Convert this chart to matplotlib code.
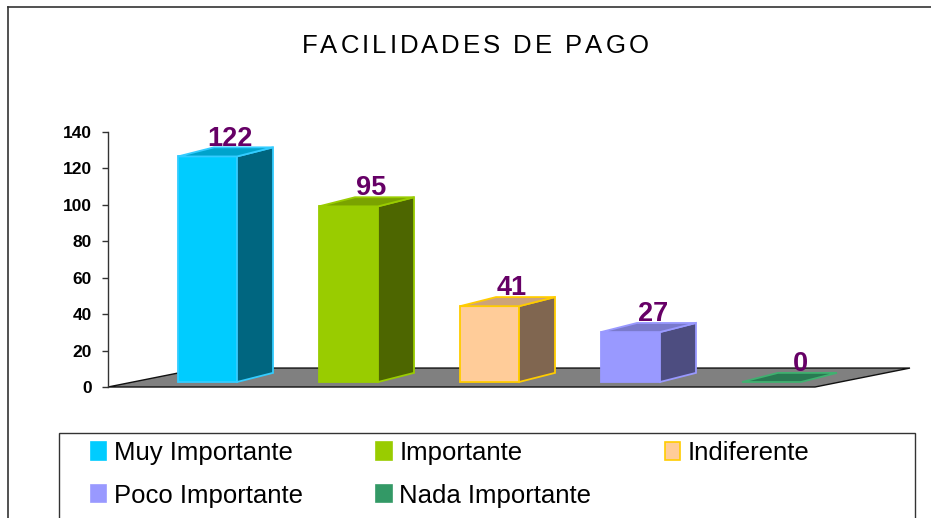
import matplotlib.pyplot as plt
from matplotlib.patches import Polygon, Rectangle, Patch
from matplotlib.lines import Line2D
from matplotlib.font_manager import FontProperties

# Datos
categorias = ['Muy Importante', 'Importante', 'Indiferente', 'Poco Importante', 'Nada Importante']
valores = [122, 95, 41, 27, 0]
ticks_y = [0, 20, 40, 60, 80, 100, 120, 140]
titulo = 'FACILIDADES DE PAGO'

# Colores de cada barra (frente, lado, arriba, borde)
c_frente = ['#00CCFF', '#99CC00', '#FFCC99', '#9999FF', '#339966']
c_lado = ['#006680', '#4D6600', '#806650', '#4D4D80', '#1A4D33']
c_arriba = ['#00A3CC', '#7AA300', '#CCA37A', '#7A7ACC', '#297A52']
c_borde = ['#33CCFF', '#99CC00', '#FFCC00', '#9999FF', '#40B070']

W, H = 931, 518
def fx(px):
    return px / W
def fy(py):
    return 1 - py / H

plt.rcParams['font.family'] = ['Liberation Sans', 'DejaVu Sans']
fig = plt.figure(figsize=(W / 100, H / 100), dpi=100)
rend = fig.canvas.get_renderer()

# texto con espaciado entre letras (el título del original viene espaciado)
def texto_espaciado(xc, yc, s, extra, size):
    prop = FontProperties(family='Liberation Sans', size=size)
    anchos = [rend.get_text_width_height_descent(c, prop, ismath=False)[0] for c in s]
    total = sum(anchos) + extra * (len(s) - 1)
    x = xc - total / 2
    for c, w in zip(s, anchos):
        fig.text(fx(x), fy(yc), c, ha='left', va='center', fontproperties=prop)
        x += w + extra

# marco exterior
fig.add_artist(Line2D([fx(8), fx(8)], [fy(7), 0], color='#333333', lw=1.2))
fig.add_artist(Line2D([fx(8), 1], [fy(7), fy(7)], color='#333333', lw=1.2))

texto_espaciado(475, 46, titulo, 3.0, 18.5)

# ejes: x en unidades de categoría, y en unidades del valor
ax = fig.add_axes([fx(108), fy(387), (910 - 108) / W, (387 - 132) / H])
paso = 141.0            # px por categoría
x0 = (108 - 207.5) / paso
x1 = (910 - 207.5) / paso
ax.set_xlim(x0, x1)
ax.set_ylim(0, 140)
for s in ['top', 'right', 'bottom']:
    ax.spines[s].set_visible(False)
ax.spines['left'].set_color('#333333')
ax.spines['left'].set_linewidth(1.0)
ax.set_xticks([])
ax.set_yticks(ticks_y)
ax.tick_params(axis='y', length=4.5, width=1.0, color='#333333', pad=7)
for lab in ax.get_yticklabels():
    lab.set_fontweight('bold')
    lab.set_fontsize(12.5)
ax.patch.set_visible(False)

# piso
piso_dx, piso_dy = 95 / paso, 10.4
piso_fin = (815 - 207.5) / paso
piso = [(x0, 0), (piso_fin, 0), (piso_fin + piso_dx, piso_dy), (x0 + piso_dx, piso_dy)]
ax.add_patch(Polygon(piso, closed=True, facecolor='#808080', edgecolor='#111111',
                     lw=1.0, clip_on=False, zorder=1))

# barras 3D
ancho = 59 / paso
dx, dy = 36 / paso, 5.0
base = 2.75
escala = 1.015
for i, v in enumerate(valores):
    xl = i - ancho / 2
    xr = i + ancho / 2
    top = base + v * escala
    frente = [(xl, base), (xr, base), (xr, top), (xl, top)]
    lado = [(xr, base), (xr + dx, base + dy), (xr + dx, top + dy), (xr, top)]
    arriba = [(xl, top), (xr, top), (xr + dx, top + dy), (xl + dx, top + dy)]
    if v > 0:
        ax.add_patch(Polygon(frente, closed=True, facecolor=c_frente[i], edgecolor=c_borde[i],
                             lw=1.3, joinstyle='miter', clip_on=False, zorder=2))
        ax.add_patch(Polygon(lado, closed=True, facecolor=c_lado[i], edgecolor=c_borde[i],
                             lw=1.3, joinstyle='miter', clip_on=False, zorder=2))
    ax.add_patch(Polygon(arriba, closed=True, facecolor=c_arriba[i], edgecolor=c_borde[i],
                         lw=1.3, joinstyle='miter', clip_on=False, zorder=2))
    desp = 0.08 if v == 0 else 0.03
    ax.text(i + dx / 2 + desp, top + dy + 1.0, str(v), ha='center', va='baseline',
            fontsize=19.5, fontweight='bold', color='#660066', zorder=3, clip_on=False)

# leyenda
fig.add_artist(Rectangle((fx(59), fy(560)), (915 - 59) / W, (560 - 433) / H,
                         facecolor='none', edgecolor='#333333', lw=1.0))
handles = [Patch(facecolor=c_frente[i], edgecolor=c_borde[i] if i == 2 else c_frente[i],
                 lw=1.2) for i in range(len(categorias))]
orden = [0, 3, 1, 4, 2]
fig.legend([handles[k] for k in orden], [categorias[k] for k in orden],
           loc='upper left', bbox_to_anchor=(fx(91), fy(441)), ncol=3, frameon=False,
           borderpad=0, borderaxespad=0, handlelength=0.6, handleheight=0.65,
           handletextpad=0.3, columnspacing=2.85, labelspacing=0.72, fontsize=18.5)

fig.savefig('out.png', dpi=100)
